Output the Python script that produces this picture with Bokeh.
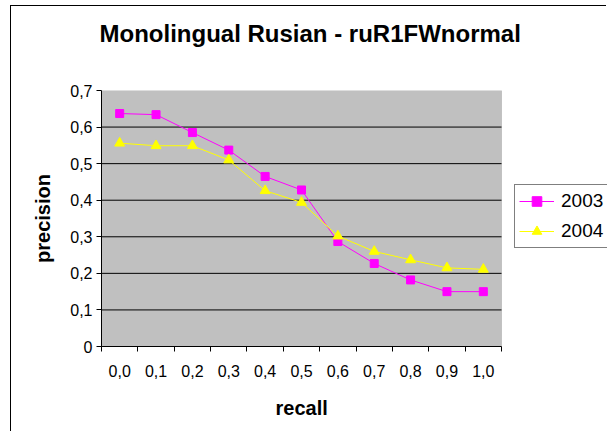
from bokeh.plotting import figure
from bokeh.models import (Range1d, FixedTicker, CustomJSTickFormatter, Legend, LegendItem,
                          BoxAnnotation, Title)
from bokeh.embed import file_html
from bokeh.resources import INLINE

# ---- data ----
recall = ["0,0", "0,1", "0,2", "0,3", "0,4", "0,5", "0,6", "0,7", "0,8", "0,9", "1,0"]
prec_2003 = [0.637, 0.634, 0.585, 0.537, 0.465, 0.428, 0.287, 0.227, 0.182, 0.150, 0.150]
prec_2004 = [0.556, 0.549, 0.549, 0.510, 0.426, 0.394, 0.302, 0.260, 0.237, 0.215, 0.211]
y_ticks = [0.0, 0.1, 0.2, 0.3, 0.4, 0.5, 0.6, 0.7]
series_names = ["2003", "2004"]
chart_title = "Monolingual Rusian - ruR1FWnormal"
x_title = "recall"
y_title = "precision"

FONT = "Liberation Sans"
n = len(recall)
x_pos = list(range(n))
x_lo, x_hi = -0.5, n - 0.5

# geometry (pixels)
W, H = 596, 426
LEFT, TOP, BOTTOM = 90, 84, 86
PLOT_W = 400                      # width of the grey plot area
FRAME_W = W - LEFT                # frame extends to the right edge (room for legend)
x_end = x_lo + n * FRAME_W / PLOT_W

p = figure(width=W, height=H, output_backend="svg", toolbar_location=None,
           x_range=Range1d(x_lo, x_end), y_range=Range1d(y_ticks[0], y_ticks[-1]),
           min_border_left=LEFT, min_border_right=0, min_border_top=TOP, min_border_bottom=BOTTOM)
p.styles = {"border-left": "1px solid #000", "border-top": "1px solid #000",
            "margin-top": "5px", "margin-left": "10px"}

p.background_fill_color = "white"
p.border_fill_color = "white"
p.outline_line_color = None

# grey plot area
p.add_layout(BoxAnnotation(left=x_lo, right=x_hi, bottom=y_ticks[0], top=y_ticks[-1],
                           fill_color="#C0C0C0", fill_alpha=1.0,
                           line_color="#808080", line_width=1, level="underlay"))

# title (spacer keeps it up at the top)
p.add_layout(Title(text=" ", text_font_size="1px", standoff=41), "above")
p.title.text = chart_title
p.title.align = "left"
p.title.offset = -2
p.title.standoff = 0
p.title.vertical_align = "bottom"
p.title.text_font = FONT
p.title.text_font_size = "24px"
p.title.text_font_style = "bold"
p.title.text_color = "black"

# x axis
xa = p.xaxis[0]
xa.bounds = (x_lo, x_hi)
xa.ticker = FixedTicker(ticks=x_pos, minor_ticks=[i - 0.5 for i in range(n + 1)])
xa.major_label_overrides = {i: lab for i, lab in enumerate(recall)}
xa.major_tick_out = 0
xa.major_tick_in = 0
xa.minor_tick_out = 5
xa.minor_tick_in = 0
xa.minor_tick_line_color = "black"
xa.axis_line_color = "black"
xa.major_label_text_font = FONT
xa.major_label_text_font_size = "16px"
xa.major_label_text_color = "black"
xa.major_label_standoff = 13

# x axis title as a below title (precise horizontal placement)
p.add_layout(Title(text=" ", text_font_size="1px", standoff=14), "below")
p.add_layout(Title(text=x_title, align="left", offset=174, standoff=0, vertical_align="top",
                   text_font=FONT, text_font_size="20px", text_font_style="bold",
                   text_color="black"), "below")

# y axis
ya = p.yaxis[0]
ya.ticker = FixedTicker(ticks=y_ticks)
ya.formatter = CustomJSTickFormatter(code="""
    if (Math.abs(tick) < 1e-9) { return "0"; }
    return tick.toFixed(1).replace(".", ",");
""")
ya.major_tick_out = 5
ya.major_tick_in = 0
ya.minor_tick_out = 0
ya.minor_tick_in = 0
ya.axis_line_color = "black"
ya.major_tick_line_color = "black"
ya.major_label_text_font = FONT
ya.major_label_text_font_size = "16px"
ya.major_label_text_color = "black"
ya.major_label_standoff = 4
ya.axis_label = y_title
ya.axis_label_text_font = FONT
ya.axis_label_text_font_size = "20px"
ya.axis_label_text_font_style = "bold"
ya.axis_label_text_color = "black"
ya.axis_label_standoff = 13

# horizontal grid lines, limited to the plot area
p.xgrid.visible = False
p.ygrid.visible = False
g_y = y_ticks[1:-1]
p.segment(x0=[x_lo] * len(g_y), x1=[x_hi] * len(g_y), y0=g_y, y1=g_y,
          line_color="black", line_width=1)

# series
l1 = p.line(x_pos, prec_2003, line_color="#FF00FF", line_width=1)
m1 = p.scatter(x_pos, prec_2003, marker="square", size=8, fill_color="#FF00FF", line_color="#FF00FF")
l2 = p.line(x_pos, prec_2004, line_color="#FFFF00", line_width=1)
m2 = p.scatter(x_pos, prec_2004, marker="triangle", size=10, fill_color="#FFFF00", line_color="#FFFF00")

legend = Legend(items=[LegendItem(label=series_names[0], renderers=[l1, m1]),
                       LegendItem(label=series_names[1], renderers=[l2, m2])],
                location=(413, 98))
legend.label_text_font = FONT
legend.label_text_font_size = "19px"
legend.label_text_color = "black"
legend.glyph_width = 35
legend.glyph_height = 24
legend.label_height = 24
legend.label_standoff = 7
legend.padding = 4
legend.spacing = 6
legend.margin = 0
legend.border_line_color = "black"
legend.border_line_width = 1
legend.background_fill_color = "white"
legend.background_fill_alpha = 1
p.add_layout(legend, "center")

open("out.html", "w").write(file_html(p, INLINE))
